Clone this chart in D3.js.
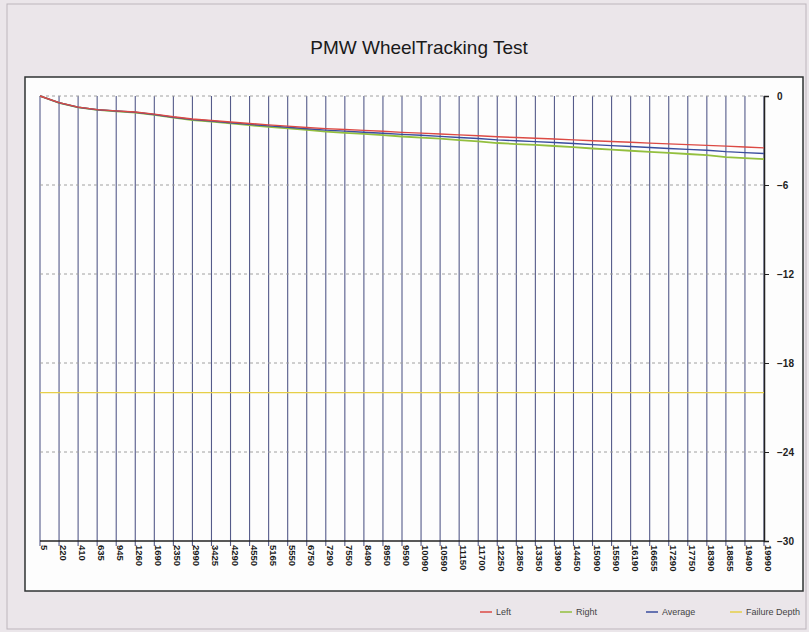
<!DOCTYPE html>
<html>
<head>
<meta charset="utf-8">
<script src="https://cdn.jsdelivr.net/npm/d3@7"></script>
<style>
  body { margin: 0; background: #ebe6ea; }
  svg { display: block; font-family: "Liberation Sans", Arial, sans-serif; }
</style>
</head>
<body>
<script>
// cycle labels along the bottom (category axis)
var cycles = ["5","220","410","635","945","1260","1690","2350","2990","3425","4290","4550","5165","5550","6750","7290","7550","8490","8950","9590","10090","10590","11150","11700","12250","12850","13350","13990","14450","15090","15590","16190","16655","17290","17750","18390","18855","19490","19990"];

// rut depth (mm) at each labelled cycle
var left = [0,-0.45,-0.75,-0.92,-1.0,-1.08,-1.22,-1.4,-1.55,-1.65,-1.75,-1.85,-1.95,-2.03,-2.12,-2.2,-2.26,-2.32,-2.38,-2.45,-2.5,-2.56,-2.62,-2.68,-2.75,-2.8,-2.85,-2.9,-2.96,-3.02,-3.07,-3.12,-3.18,-3.23,-3.28,-3.33,-3.38,-3.44,-3.5];
var right = [0,-0.46,-0.77,-0.94,-1.03,-1.12,-1.27,-1.46,-1.62,-1.73,-1.85,-1.97,-2.08,-2.18,-2.29,-2.4,-2.48,-2.56,-2.64,-2.73,-2.8,-2.88,-2.97,-3.06,-3.17,-3.24,-3.3,-3.37,-3.45,-3.54,-3.62,-3.69,-3.77,-3.84,-3.91,-3.98,-4.12,-4.19,-4.25];
var average = [0,-0.455,-0.76,-0.93,-1.015,-1.1,-1.245,-1.43,-1.585,-1.69,-1.8,-1.91,-2.015,-2.105,-2.205,-2.3,-2.37,-2.44,-2.51,-2.59,-2.65,-2.72,-2.795,-2.87,-2.96,-3.02,-3.075,-3.135,-3.205,-3.28,-3.345,-3.405,-3.475,-3.535,-3.595,-3.655,-3.75,-3.815,-3.875];
var failureDepth = [-20,-20,-20,-20,-20,-20,-20,-20,-20,-20,-20,-20,-20,-20,-20,-20,-20,-20,-20,-20,-20,-20,-20,-20,-20,-20,-20,-20,-20,-20,-20,-20,-20,-20,-20,-20,-20,-20,-20];

var yTicks = [0,-6,-12,-18,-24,-30];

var seriesNames = ["Left","Right","Average","Failure Depth"];
var seriesColors = ["#dc4a44","#93bf3e","#3a4d9e","#e6cf48"];
var seriesData = [left, right, average, failureDepth];

var W = 809, H = 632;
var svg = d3.select("body").append("svg")
	.attr("width", W)
	.attr("height", H);

// paper frame
svg.append("rect")
	.attr("x", 7).attr("y", 4)
	.attr("width", 799).attr("height", 625)
	.attr("fill", "none")
	.attr("stroke", "#bdb5bc");

svg.append("text")
	.attr("x", 419).attr("y", 54)
	.attr("text-anchor", "middle")
	.attr("font-size", "19px")
	.attr("fill", "#1a1a1a")
	.text("PMW WheelTracking Test");

// white chart panel
svg.append("rect")
	.attr("x", 25).attr("y", 77)
	.attr("width", 778).attr("height", 514)
	.attr("fill", "#fdfdfd")
	.attr("stroke", "#2f3333")
	.attr("stroke-width", 1.5);

var x = d3.scalePoint()
	.domain(cycles)
	.range([40, 764]);

var y = d3.scaleLinear()
	.domain([-30, 0])
	.range([541, 96]);

// vertical grid, one per category
svg.append("g").selectAll("line")
	.data(cycles)
	.enter().append("line")
		.attr("x1", function(d){ return x(d); })
		.attr("x2", function(d){ return x(d); })
		.attr("y1", y(0))
		.attr("y2", y(-30) + 5)
		.attr("stroke", "#555b8a")
		.attr("stroke-width", 1.1);

// horizontal dashed grid
svg.append("g").selectAll("line")
	.data(yTicks.filter(function(d){ return d > -30; }))
	.enter().append("line")
		.attr("x1", 40)
		.attr("x2", 764)
		.attr("y1", function(d){ return y(d); })
		.attr("y2", function(d){ return y(d); })
		.attr("stroke", "#a0a0a0")
		.attr("stroke-dasharray", "3,3");

// bottom axis line
svg.append("line")
	.attr("x1", 40).attr("x2", 764)
	.attr("y1", y(-30)).attr("y2", y(-30))
	.attr("stroke", "#222")
	.attr("stroke-width", 1.3);

// x labels, rotated
svg.append("g").selectAll("text")
	.data(cycles)
	.enter().append("text")
		.attr("transform", function(d){ return "translate(" + (x(d) + 1) + "," + (y(-30) + 4) + ") rotate(90)"; })
		.attr("font-size", "9.5px")
		.attr("font-weight", "bold")
		.attr("fill", "#1a1a1a")
		.text(function(d){ return d; });

// right y axis
var yAxis = d3.axisRight(y)
	.tickValues(yTicks)
	.tickSize(5)
	.tickPadding(8);
var gy = svg.append("g")
	.attr("transform", "translate(764,0)")
	.call(yAxis);
gy.select(".domain").attr("stroke", "#222").attr("stroke-width", 1.5);
gy.selectAll(".tick line").attr("stroke", "#222");
gy.selectAll(".tick text")
	.attr("font-size", "10px")
	.attr("font-weight", "bold")
	.attr("font-family", "Liberation Sans, Arial, sans-serif")
	.attr("fill", "#222");

// series
var line = d3.line()
	.x(function(d,i){ return x(cycles[i]); })
	.y(function(d){ return y(d); });

svg.append("g").selectAll("path")
	.data([failureDepth, right, average, left])
	.enter().append("path")
		.attr("d", line)
		.attr("fill", "none")
		.attr("stroke", function(d){ return seriesColors[seriesData.indexOf(d)]; })
		.attr("stroke-width", function(d){ return d === right ? 1.8 : 1.4; });

// legend
var legendX = [480, 560, 646, 730];
var lg = svg.append("g").selectAll("g")
	.data(seriesNames)
	.enter().append("g")
		.attr("transform", function(d,i){ return "translate(" + legendX[i] + ",612)"; });
lg.append("line")
	.attr("x1", 0).attr("x2", 12)
	.attr("y1", 0).attr("y2", 0)
	.attr("stroke", function(d,i){ return seriesColors[i]; })
	.attr("stroke-width", 1.5);
lg.append("text")
	.attr("x", 16).attr("y", 3)
	.attr("font-size", "9px")
	.attr("fill", "#444")
	.text(function(d){ return d; });
</script>
</body>
</html>
